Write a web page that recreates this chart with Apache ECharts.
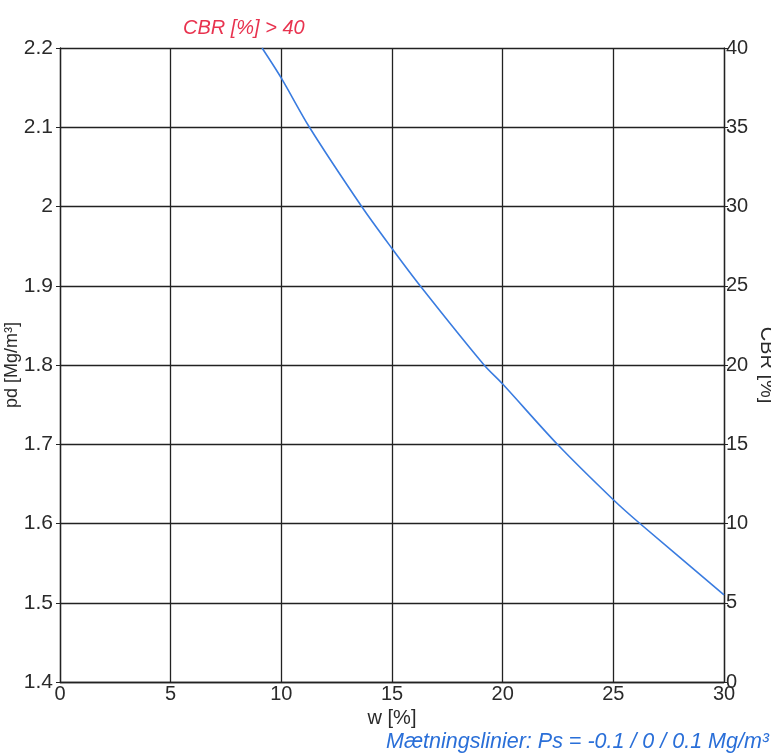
<!DOCTYPE html>
<html>
<head>
<meta charset="utf-8">
<script src="https://cdn.jsdelivr.net/npm/echarts@6/dist/echarts.min.js"></script>
<style>
  html, body { margin: 0; padding: 0; background: #fff; }
  #main { width: 771px; height: 754px; }
</style>
</head>
<body>
<div id="main"></div>
<script>
// water content w [%] and dry density pd [Mg/m3]
var wValues = [9.13, 10, 11.27, 13.63, 15, 16.27, 19.16, 20, 22.47, 25, 26.2, 30];
var pdValues = [2.2, 2.162, 2.1, 2.0, 1.947, 1.9, 1.8, 1.776, 1.7, 1.63, 1.6, 1.51];

var titleText = 'CBR [%] > 40';
var noteText = 'Mætningslinier: Ps = -0.1 / 0 / 0.1 Mg/m³';

var chart = echarts.init(document.getElementById('main'));

var points = wValues.map(function (w, i) {
  return [w, pdValues[i]];
});

var labelFont = {
  color: '#2a2a2a',
  fontSize: 20,
  fontFamily: 'Liberation Sans'
};

var option = {
  backgroundColor: '#fff',
  animation: false,
  title: [{
    text: titleText,
    left: 178,
    top: 13,
    textStyle: {
      color: '#e8334f',
      fontSize: 20,
      fontStyle: 'italic',
      fontWeight: 'normal',
      fontFamily: 'Liberation Sans'
    }
  }, {
    text: noteText,
    right: 2,
    top: 731,
    padding: 0,
    textStyle: {
      color: '#2a6fd8',
      fontSize: 21.5,
      fontStyle: 'italic',
      fontWeight: 'normal',
      fontFamily: 'Liberation Sans'
    }
  }],
  grid: {
    left: 60,
    right: 47,
    top: 48,
    bottom: 72,
    containLabel: false,
    outerBoundsMode: 'none'
  },
  xAxis: {
    type: 'value',
    min: 0,
    max: 30,
    interval: 5,
    name: 'w [%]',
    nameLocation: 'middle',
    nameGap: 26,
    nameTextStyle: labelFont,
    axisLine: { lineStyle: { color: '#222', width: 1.3 } },
    axisTick: { show: false },
    axisLabel: Object.assign({ margin: 2 }, labelFont),
    splitLine: { lineStyle: { color: '#222', width: 1.3 } }
  },
  yAxis: [{
    type: 'value',
    min: 1.4,
    max: 2.2,
    interval: 0.1,
    name: 'pd [Mg/m³]',
    nameLocation: 'middle',
    nameGap: 39,
    nameMoveOverlap: false,
    nameRotate: 90,
    nameTextStyle: { color: '#2a2a2a', fontSize: 18, fontFamily: 'Liberation Sans' },
    axisLine: { show: true, lineStyle: { color: '#222', width: 1.3 } },
    axisTick: { show: true, length: 4, lineStyle: { color: '#222' } },
    axisLabel: { margin: 7, color: '#2a2a2a', fontSize: 21, fontFamily: 'Liberation Sans' },
    splitLine: { lineStyle: { color: '#222', width: 1.3 } }
  }, {
    type: 'value',
    position: 'right',
    min: 0,
    max: 40,
    interval: 5,
    name: 'CBR [%]',
    nameLocation: 'middle',
    nameGap: 33,
    nameMoveOverlap: false,
    nameRotate: -90,
    nameTextStyle: labelFont,
    axisLine: { show: true, lineStyle: { color: '#222', width: 1.3 } },
    axisTick: { show: true, length: 4, lineStyle: { color: '#222' } },
    axisLabel: Object.assign({ margin: 2 }, labelFont),
    splitLine: { show: false }
  }],
  series: [{
    type: 'line',
    yAxisIndex: 0,
    data: points,
    smooth: 0.3,
    showSymbol: false,
    lineStyle: { color: '#3a7ce0', width: 1.6 }
  }]
};

chart.setOption(option);
</script>
</body>
</html>
